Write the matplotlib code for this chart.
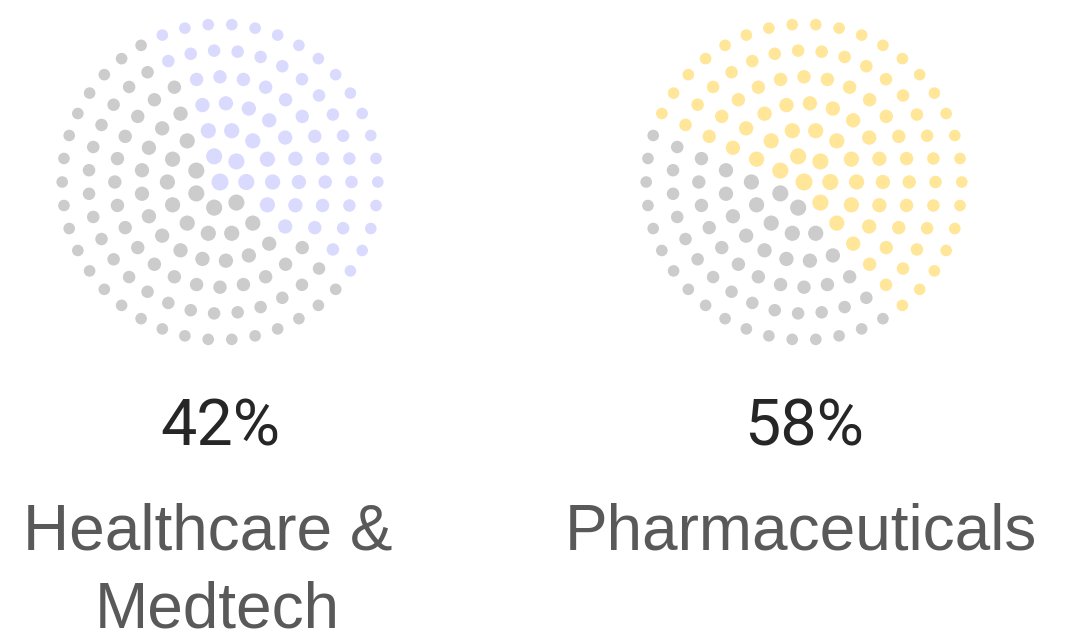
import numpy as np
import matplotlib.pyplot as plt
from matplotlib.patches import Circle

# share of each sector, in percent
labels = ["Healthcare & \nMedtech", "Pharmaceuticals"]
shares = [42, 58]
fill_colors = ["#dadaff", "#ffe699"]
rest_color = "#cccccc"

# dots per concentric ring, from the centre outwards
ring_counts = [1, 7, 14, 21, 28, 35, 42]

centres_x = [220, 804]
centre_y = 182
ring_gap = 26.3

fig = plt.figure(figsize=(10.67, 6.33), dpi=100)
ax = fig.add_axes([0, 0, 1, 1])
ax.set_xlim(0, 1067)
ax.set_ylim(633, 0)
ax.axis("off")

for cx, share, col, label in zip(centres_x, shares, fill_colors, labels):
    mid = share / 100 * 90          # sector centre (deg, ccw from +x)
    half = share / 100 * 180        # half of the sector width
    for k, n in enumerate(ring_counts):
        r = k * ring_gap
        d = 17 - 0.9 * k            # dots shrink towards the rim
        for j in range(n):
            a = 360.0 * j / n
            diff = (a - mid + 180) % 360 - 180
            c = col if abs(diff) <= half else rest_color
            x = cx + r * np.cos(np.radians(a))
            y = centre_y - r * np.sin(np.radians(a))
            ax.add_patch(Circle((x, y), d / 2, color=c, lw=0))

    ax.text(cx, 446, f"{share}%", ha="center", va="baseline",
            fontsize=46.5, family="Roboto", color="#262626")
    for i, line in enumerate(label.split("\n")):
        ax.text(cx - 3, 550 + 77 * i, line, ha="center", va="baseline",
                fontsize=46, family="Liberation Sans", color="#595959")

fig.savefig("out.png", dpi=100)
